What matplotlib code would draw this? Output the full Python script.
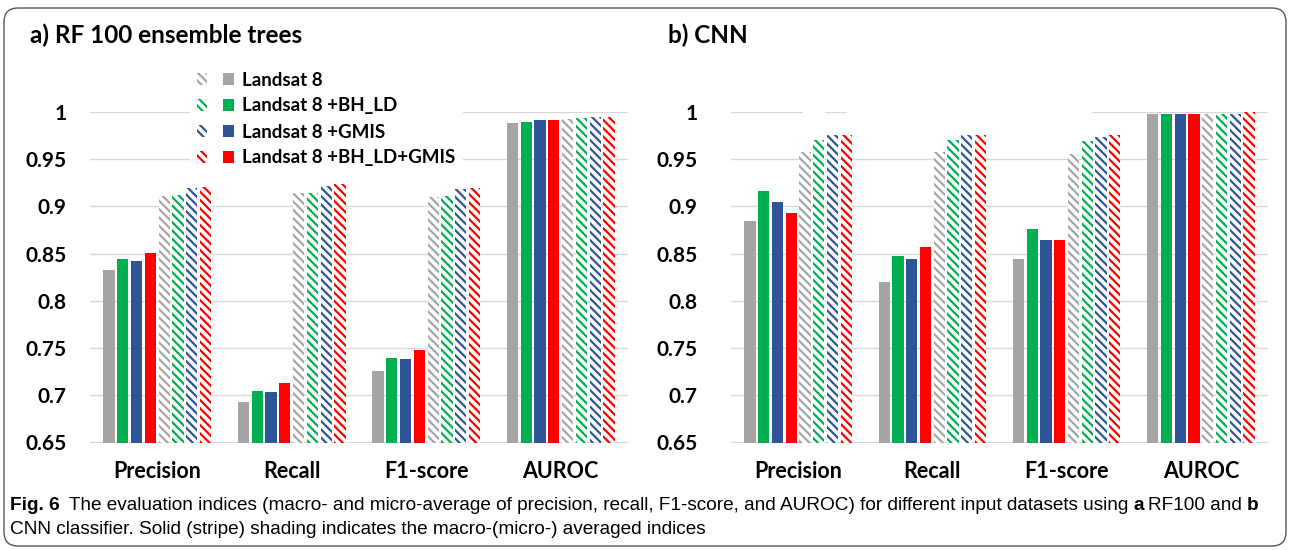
import numpy as np
import matplotlib
matplotlib.use('Agg')
import matplotlib.pyplot as plt
from matplotlib import font_manager
from matplotlib.patches import Patch, Rectangle, FancyBboxPatch
from matplotlib.legend_handler import HandlerTuple
from matplotlib.transforms import IdentityTransform

metrics = ['Precision', 'Recall', 'F1-score', 'AUROC']
datasets = ['Landsat 8', 'Landsat 8 +BH_LD', 'Landsat 8 +GMIS', 'Landsat 8 +BH_LD+GMIS']
colors = ['#A5A5A5', '#00B050', '#2F5597', '#FF0000']
yticks = [0.65, 0.7, 0.75, 0.8, 0.85, 0.9, 0.95, 1.0]
ytick_labels = ['0.65', '0.7', '0.75', '0.8', '0.85', '0.9', '0.95', '1']

# RF100 - macro (solid) and micro (striped) averages, one row per dataset
rf_macro = [[0.833, 0.693, 0.726, 0.988],
            [0.844, 0.705, 0.739, 0.989],
            [0.842, 0.704, 0.738, 0.991],
            [0.851, 0.713, 0.748, 0.991]]
rf_micro = [[0.911, 0.914, 0.910, 0.993],
            [0.912, 0.914, 0.911, 0.994],
            [0.920, 0.922, 0.918, 0.995],
            [0.921, 0.924, 0.920, 0.995]]

# CNN
cnn_macro = [[0.885, 0.820, 0.844, 0.998],
             [0.916, 0.848, 0.876, 0.998],
             [0.905, 0.844, 0.864, 0.998],
             [0.893, 0.857, 0.864, 0.998]]
cnn_micro = [[0.958, 0.958, 0.956, 0.998],
             [0.970, 0.970, 0.969, 0.998],
             [0.976, 0.976, 0.974, 0.998],
             [0.976, 0.976, 0.976, 1.000]]

available = {f.name for f in font_manager.fontManager.ttflist}
main_font = 'Lato' if 'Lato' in available else 'DejaVu Sans'
cap_font = 'Liberation Sans Narrow' if 'Liberation Sans Narrow' in available else 'Liberation Sans'
plt.rcParams['font.family'] = [main_font, 'DejaVu Sans']
plt.rcParams['hatch.linewidth'] = 1.6

HATCH = '\\\\\\\\'
W, H = 1290, 550
fig = plt.figure(figsize=(W / 100, H / 100), dpi=100)


def px(x0, y0, x1, y1):
    # pixel box (top-left origin) -> axes rect in figure fraction
    return [x0 / W, 1 - y1 / H, (x1 - x0) / W, (y1 - y0) / H]


def draw_panel(ax, macro, micro, tick_pad):
    x = np.arange(len(metrics))
    step = 0.1026
    width = 0.084
    for i in range(4):
        ax.bar(x + (i - 3.5) * step, macro[i], width,
               color=colors[i], linewidth=0, zorder=2)
        ax.bar(x + (i + 4 - 3.5) * step, micro[i], width,
               facecolor='white', edgecolor=colors[i], hatch=HATCH,
               linewidth=0, zorder=2)
    ax.set_ylim(0.65, 1.0)
    ax.set_xlim(-0.5, len(metrics) - 0.5)
    ax.set_yticks(yticks)
    ax.set_yticklabels(ytick_labels, fontsize=15, fontweight='bold')
    ax.set_xticks(x)
    ax.set_xticklabels(metrics, fontsize=15.5, fontweight='bold')
    ax.tick_params(axis='x', length=0, pad=13)
    ax.tick_params(axis='y', length=0, pad=tick_pad)
    ax.grid(axis='y', color='#D9D9D9', linewidth=1)
    ax.set_axisbelow(True)
    for s in ax.spines.values():
        s.set_visible(False)


ax1 = fig.add_axes(px(90, 112, 628, 442.5))
draw_panel(ax1, rf_macro, rf_micro, 17)
ax2 = fig.add_axes(px(731, 112, 1268, 442.5))
draw_panel(ax2, cnn_macro, cnn_micro, 24)

fig.text(30 / W, 1 - 35 / H, 'a) RF 100 ensemble trees', fontsize=17.5,
         fontweight='bold', va='center', ha='left')
fig.text(668 / W, 1 - 35 / H, 'b) CNN', fontsize=17.5,
         fontweight='bold', va='center', ha='left')

# white boxes behind legend areas hide the top gridlines there
for (x0, y0, x1, y1) in [(190, 62, 463, 167), (803, 100, 825, 118), (847, 100, 1092, 118)]:
    fig.patches.append(Rectangle((x0, H - y1), x1 - x0, y1 - y0, transform=IdentityTransform(),
                                 facecolor='white', edgecolor='none', zorder=1))

handles = [(Patch(facecolor='white', edgecolor=c, hatch=HATCH, linewidth=0),
            Patch(facecolor=c, linewidth=0)) for c in colors]
leg = fig.legend(handles, datasets, loc='upper left', bbox_to_anchor=(197 / W, 1 - 71.5 / H),
                 handler_map={tuple: HandlerTuple(ndivide=None, pad=0.85)},
                 prop={'family': [main_font, 'DejaVu Sans'], 'weight': 'bold', 'size': 13.5},
                 frameon=False, handlelength=1.95, handleheight=0.55, handletextpad=0.45,
                 labelspacing=0.48, borderpad=0, borderaxespad=0)
leg.set_zorder(3)

# rounded frame around the whole figure
fig.patches.append(FancyBboxPatch((4, 4), W - 8, H - 12, boxstyle='round,pad=0,rounding_size=14',
                                  transform=IdentityTransform(), facecolor='none',
                                  edgecolor='#555555', linewidth=1.0, zorder=5))

# caption with inline bold fragments
renderer = fig.canvas.get_renderer()
cap_size = 13.7


def put_line(parts, x, y):
    for txt, bold in parts:
        t = fig.text(x / W, 1 - y / H, txt, fontsize=cap_size, family=[cap_font, 'DejaVu Sans'],
                     fontweight='bold' if bold else 'normal', va='center', ha='left')
        bb = t.get_window_extent(renderer)
        x = bb.x1 + 4.5


put_line([('Fig. 6', True),
          (' The evaluation indices (macro- and micro-average of precision, recall, F1-score, '
           'and AUROC) for different input datasets using', False),
          ('a', True), ('RF100 and', False), ('b', True)], 10, 505)
put_line([('CNN classifier. Solid (stripe) shading indicates the macro-(micro-) averaged indices',
           False)], 10, 530)

fig.savefig('out.png', dpi=100)
